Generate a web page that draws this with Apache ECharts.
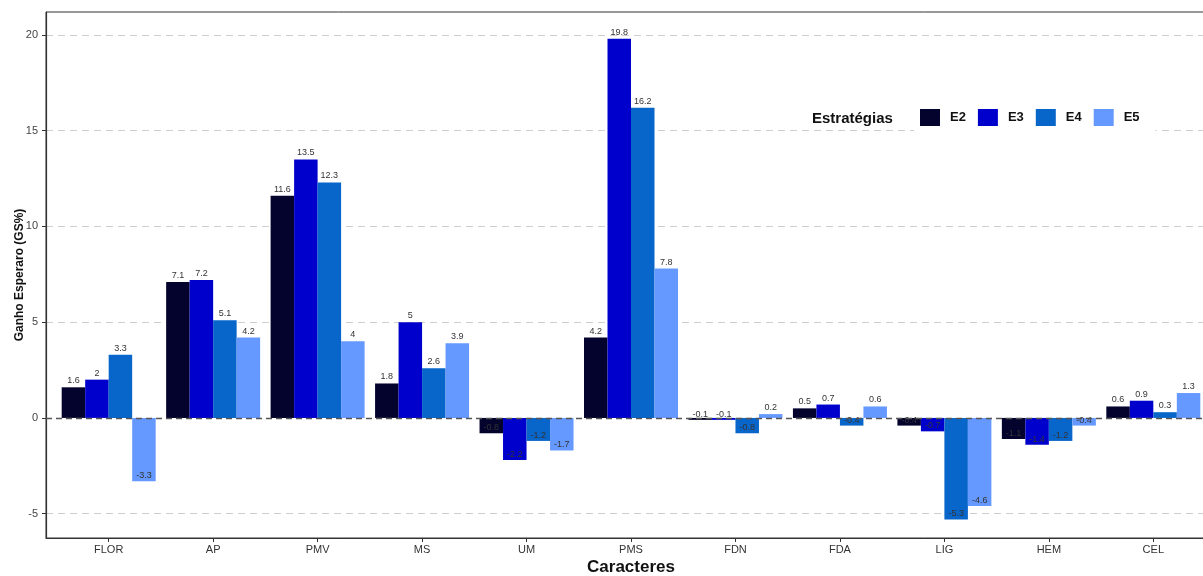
<!DOCTYPE html>
<html>
<head>
<meta charset="utf-8">
<script src="https://cdn.jsdelivr.net/npm/echarts@6/dist/echarts.min.js"></script>
<style>
  html, body { margin: 0; padding: 0; background: #fff; overflow: hidden; }
  /* panel runs slightly past the right edge of the window */
  #chart { width: 1216px; height: 576px; }
</style>
</head>
<body>
<div id="chart"></div>
<script>
// Traits (caracteres) and expected gain per selection strategy
const categories = ['FLOR', 'AP', 'PMV', 'MS', 'UM', 'PMS', 'FDN', 'FDA', 'LIG', 'HEM', 'CEL'];
const E2 = [1.6, 7.1, 11.6, 1.8, -0.8, 4.2, -0.1, 0.5, -0.4, -1.1, 0.6];
const E3 = [2, 7.2, 13.5, 5, -2.2, 19.8, -0.1, 0.7, -0.7, -1.4, 0.9];
const E4 = [3.3, 5.1, 12.3, 2.6, -1.2, 16.2, -0.8, -0.4, -5.3, -1.2, 0.3];
const E5 = [-3.3, 4.2, 4, 3.9, -1.7, 7.8, 0.2, 0.6, -4.6, -0.4, 1.3];
const seriesNames = ['E2', 'E3', 'E4', 'E5'];
const yTicks = [-5, 0, 5, 10, 15, 20];

const colors = ['#03032e', '#0000cd', '#0865c9', '#6699ff'];
const font = "'Liberation Sans', Arial, sans-serif";
const catPositions = categories.map((_, i) => i + 1);

const chart = echarts.init(document.getElementById('chart'), null, { renderer: 'canvas' });

function makeSeries(name, values, idx) {
  return {
    name: name,
    type: 'bar',
    barWidth: 23.5,
    barGap: '0%',
    itemStyle: { color: colors[idx] },
    data: values.map((v, i) => ({
      value: [i + 1, v],
      label: { position: v >= 0 ? 'top' : 'insideBottom', distance: v >= 0 ? 2 : 1 }
    })),
    label: {
      show: true,
      fontFamily: font,
      fontSize: 9,
      color: '#333',
      formatter: p => String(p.value[1])
    },
    z: 2
  };
}

const series = [
  makeSeries('E2', E2, 0),
  makeSeries('E3', E3, 1),
  makeSeries('E4', E4, 2),
  makeSeries('E5', E5, 3)
];

// dashed reference line at zero, drawn over the bars
series[0].markLine = {
  silent: true,
  symbol: 'none',
  label: { show: false },
  lineStyle: { color: '#555', type: [6, 4], width: 1.3 },
  data: [{ yAxis: 0 }],
  z: 10
};

chart.setOption({
  animation: false,
  color: colors,
  title: {
    text: 'Estratégias',
    left: 808,
    top: 109,
    padding: [2, 22, 2, 4],
    backgroundColor: '#fff',
    textStyle: { fontFamily: font, fontSize: 15, fontWeight: 'bold', color: '#111' }
  },
  legend: {
    data: seriesNames,
    left: 914,
    top: 101,
    icon: 'rect',
    itemWidth: 20,
    itemHeight: 17,
    itemGap: 12,
    padding: [8, 16, 8, 6],
    backgroundColor: '#fff',
    textStyle: { fontFamily: font, fontSize: 13, fontWeight: 'bold', color: '#111', padding: [0, 0, 0, 5] }
  },
  grid: {
    left: 46,
    right: 0,
    top: 12,
    bottom: 38,
    outerBoundsMode: 'none',
    containLabel: false,
    show: true,
    borderColor: '#333',
    borderWidth: 1,
    backgroundColor: 'transparent'
  },
  xAxis: {
    type: 'value',
    min: 0.4,
    max: 11.6,
    name: 'Caracteres',
    nameLocation: 'middle',
    nameGap: 21,
    nameMoveOverlap: false,
    nameTextStyle: { fontFamily: font, fontSize: 17, fontWeight: 'bold', color: '#111' },
    axisLine: { show: true, onZero: false, lineStyle: { color: '#333', width: 1.2 } },
    axisTick: { show: true, customValues: catPositions, length: 4, lineStyle: { color: '#333' } },
    axisLabel: {
      customValues: catPositions,
      formatter: v => categories[Math.round(v) - 1] || '',
      fontFamily: font,
      fontSize: 11,
      color: '#333',
      margin: 6
    },
    splitLine: { show: false }
  },
  yAxis: {
    type: 'value',
    min: -6.27,
    max: 21.2,
    name: 'Ganho Esperaro (GS%)',
    nameLocation: 'middle',
    nameGap: 20,
    nameMoveOverlap: false,
    nameTextStyle: { fontFamily: font, fontSize: 12, fontWeight: 'bold', color: '#111' },
    axisLine: { show: true, lineStyle: { color: '#333', width: 1.2 } },
    axisTick: { show: true, customValues: yTicks, length: 4, lineStyle: { color: '#333' } },
    axisLabel: {
      customValues: yTicks,
      fontFamily: font,
      fontSize: 11,
      color: '#444',
      margin: 8
    },
    splitLine: { show: false }
  },
  series: series.concat([{
    // light dashed horizontal guides at each labelled value, kept behind the bars
    type: 'line',
    data: [],
    silent: true,
    z: 0,
    markLine: {
      silent: true,
      symbol: 'none',
      z: 0,
      label: { show: false },
      lineStyle: { color: '#cfcfcf', type: [7, 5], width: 1.2 },
      data: yTicks.filter(v => v !== 0).map(v => ({ yAxis: v }))
    }
  }])
});
</script>
</body>
</html>
